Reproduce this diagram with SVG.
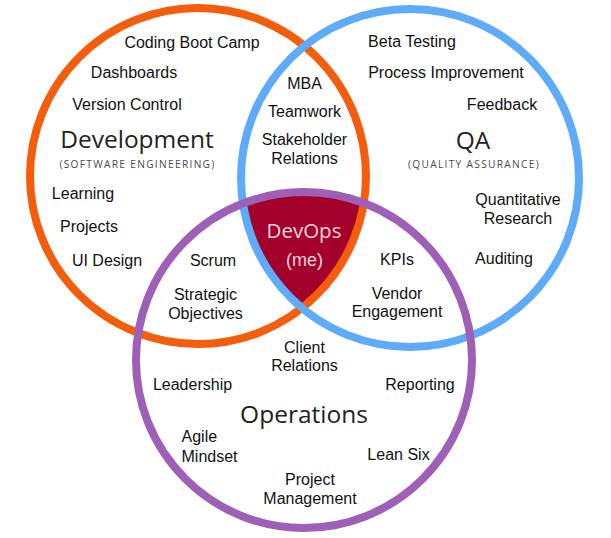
<svg xmlns="http://www.w3.org/2000/svg" width="611" height="538" viewBox="0 0 611 538">
<style>
.ring{fill:none;stroke-width:8}
.t{font-family:"Liberation Sans",Arial,sans-serif;font-size:16px;fill:#111;text-anchor:middle}
.l{font-family:"Liberation Sans",Arial,sans-serif;font-size:16px;fill:#111;text-anchor:start}
.h{font-family:"Open Sans","Noto Sans",sans-serif;font-size:24.5px;fill:#222;text-anchor:middle}
.s{font-family:"Open Sans","Noto Sans",sans-serif;font-size:10.2px;fill:#4a4a4a;text-anchor:middle;letter-spacing:1.3px}
</style>
<defs>
<clipPath id="clipBlue"><circle cx="410" cy="178" r="169"/></clipPath>
<clipPath id="clipPurple"><circle cx="304" cy="360" r="168"/></clipPath>
</defs>
<rect width="611" height="538" fill="#fff"/>
<g id="devops-region" clip-path="url(#clipBlue)">
<g clip-path="url(#clipPurple)">
<circle cx="198" cy="176" r="168" fill="#a3002c"/>
</g>
</g>
<g id="connectors">
<circle id="ring-dev" class="ring" cx="198" cy="176" r="168" stroke="#f45d0c"/>
<circle id="ring-qa" class="ring" cx="410" cy="178" r="169" stroke="#5dabf9"/>
<circle id="ring-ops" class="ring" cx="304" cy="360" r="168" stroke="#9e5fb7"/>
</g>
<g id="development">
<text class="t" x="192" y="48">Coding Boot Camp</text>
<text class="t" x="134" y="78">Dashboards</text>
<text class="t" x="127" y="110">Version Control</text>
<text class="h" x="137" y="148">Development</text>
<text class="s" x="137.5" y="168">(SOFTWARE ENGINEERING)</text>
<text class="t" x="83" y="199">Learning</text>
<text class="t" x="89" y="232">Projects</text>
<text class="t" x="107" y="266">UI Design</text>
</g>
<g id="dev-qa">
<text class="t" x="304.5" y="89">MBA</text>
<text class="t" x="304.5" y="117">Teamwork</text>
<text class="t" x="304.5" y="145">Stakeholder</text>
<text class="t" x="304.5" y="163.5">Relations</text>
</g>
<g id="qa">
<text class="t" x="412" y="47">Beta Testing</text>
<text class="t" x="446" y="78">Process Improvement</text>
<text class="t" x="502" y="110">Feedback</text>
<text class="h" x="473" y="148.5">QA</text>
<text class="s" x="474" y="168">(QUALITY ASSURANCE)</text>
<text class="t" x="518" y="205">Quantitative</text>
<text class="t" x="518" y="224">Research</text>
<text class="t" x="504" y="263.5">Auditing</text>
</g>
<g id="devops">
<text x="304" y="238" font-family="'Open Sans','Noto Sans',sans-serif" font-size="20.5" fill="#f3d6dc" text-anchor="middle">DevOps</text>
<text x="304.5" y="266" font-family="'Liberation Sans',Arial,sans-serif" font-size="18" fill="#f3d6dc" text-anchor="middle">(me)</text>
</g>
<g id="dev-ops">
<text class="t" x="213" y="266">Scrum</text>
<text class="t" x="205.5" y="300">Strategic</text>
<text class="t" x="205.5" y="318.5">Objectives</text>
</g>
<g id="qa-ops">
<text class="t" x="397" y="265">KPIs</text>
<text class="t" x="397" y="298.5">Vendor</text>
<text class="t" x="397" y="316.5">Engagement</text>
</g>
<g id="operations">
<text class="t" x="304.5" y="352.5">Client</text>
<text class="t" x="304.5" y="371">Relations</text>
<text class="t" x="192.5" y="390">Leadership</text>
<text class="t" x="420" y="390">Reporting</text>
<text class="h" x="304" y="423">Operations</text>
<text class="l" x="181.5" y="442">Agile</text>
<text class="l" x="181.5" y="462">Mindset</text>
<text class="t" x="398.5" y="459.5">Lean Six</text>
<text class="t" x="310" y="485">Project</text>
<text class="t" x="310" y="503.5">Management</text>
</g>
</svg>
